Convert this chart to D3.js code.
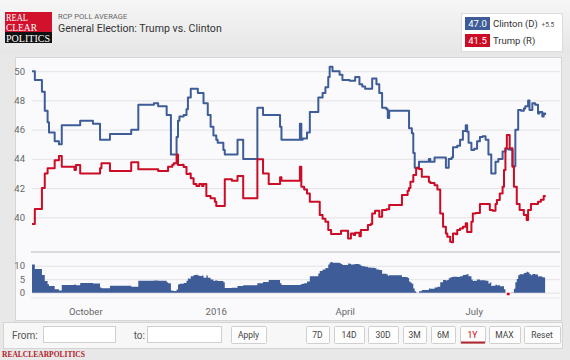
<!DOCTYPE html>
<html><head><meta charset="utf-8">
<script src="https://cdn.jsdelivr.net/npm/d3@7"></script>
<style>
html,body{margin:0;padding:0;background:#e8e8e8;}
svg{display:block;font-family:Roboto,"Liberation Sans",Arial,sans-serif;}
</style></head><body>
<svg id="c" width="570" height="360"></svg>
<script>
// ---------- DATA ----------
const startDate = "2015-08-24";            // day 0
const clintonDays = [0,2,7,9,11,12,16,19,21,34,43,48,55,70,75,86,89,95,98,102,103,104,107,109,110,112,117,121,124,126,128,130,131,135,136,145,149,159,163,175,176,189,190,191,194,196,202,205,207,209,210,212,217,219,224,228,231,233,235,240,243,245,247,250,251,252,266,268,269,270,273,280,281,284,290,292,294,296,297,300,302,304,306,307,308,310,312,314,316,318,320,322,324,327,329,332,334,336,338,339,341,343,345,347,348,350,351,353,355,357,358,360,361,362];
const clintonValues = [50.0,49.4,48.6,47.3,46.5,45.8,45.2,45.0,46.3,46.6,46.4,45.3,45.7,46.0,47.7,47.8,47.6,47.0,44.3,45.5,46.6,46.9,47.0,47.4,48.2,48.8,48.5,47.8,47.0,46.2,45.6,45.3,45.1,44.6,44.3,45.3,44.0,47.5,47.0,46.2,45.3,46.4,45.3,45.4,45.8,47.2,48.2,48.5,48.9,49.6,50.3,50.0,49.75,49.4,49.35,49.6,49.1,48.95,48.8,49.5,49.1,48.5,47.5,47.4,46.8,47.3,46.1,45.75,44.4,43.4,43.8,44.0,43.8,44.1,44.1,43.4,44.0,44.1,44.8,44.9,45.3,45.9,46.3,45.85,45.1,44.6,44.7,45.2,45.5,45.55,45.3,44.3,43.0,43.8,44.0,44.5,44.7,44.65,44.6,43.5,46.0,47.35,47.3,47.45,47.6,48.0,47.35,47.8,47.7,47.1,47.2,46.9,47.1,47.0];
const trumpDays = [0,2,7,9,11,16,19,21,30,31,34,48,49,55,70,75,89,96,99,100,102,103,106,107,109,111,112,114,116,118,120,121,123,126,129,130,136,141,145,149,159,163,167,175,176,189,190,192,194,196,203,205,207,209,211,218,223,225,227,228,231,232,237,239,240,242,245,247,250,252,261,265,266,267,269,271,272,273,275,280,281,284,286,288,290,292,293,295,296,297,299,300,302,304,306,307,310,311,313,316,323,325,327,328,330,332,333,334,335,337,339,340,342,344,347,349,350,352,357,359,361,362];
const trumpValues = [39.55,40.57,42.0,43.0,43.36,43.9,44.2,43.47,43.24,43.58,43.0,43.36,43.7,43.17,43.77,43.29,43.17,43.47,43.6,43.7,44.3,43.58,43.6,43.45,42.97,43.0,42.67,42.28,42.15,42.28,42.15,42.28,41.46,41.3,41.07,40.77,42.6,42.5,42.83,41.3,43.97,43.0,42.28,42.74,42.5,43.47,42.1,41.9,41.64,41.07,40.16,39.9,39.7,39.13,38.86,39.08,38.56,38.9,38.8,38.95,38.7,39.13,39.47,39.55,40.27,40.45,40.04,40.5,40.55,40.84,41.53,41.82,42.0,42.44,42.9,43.36,43.4,43.3,42.78,42.44,42.35,42.2,41.9,40.27,39.36,38.9,38.67,38.33,38.3,38.9,38.85,39.13,39.24,39.36,39.59,39.0,39.7,40.27,40.3,40.91,40.5,40.45,40.91,41.19,41.64,42.1,43.24,44.73,45.64,44.73,43.47,42.1,40.91,40.5,40.16,39.82,40.5,40.91,41.07,41.2,41.46,41.5];
const yTicks = [40,42,44,46,48,50];
const spreadTicks = [0,5,10];
const xTickDates = ["2015-10-01","2016-01-01","2016-04-01","2016-07-01"];
const xTickLabels = ["October","2016","April","July"];
const seriesNames = ["Clinton (D)","Trump (R)"];
const seriesLatest = ["47.0","41.5"];
const spreadLabel = "+5.5";
const rangeButtons = ["7D","14D","30D","3M","6M","1Y","MAX","Reset"];
const selectedButton = "1Y";

// ---------- STYLE ----------
const BLUE = "#3d5c98", RED = "#cc0b25";
const svg = d3.select("#c");
const parse = d3.utcParse("%Y-%m-%d");
const d0 = parse(startDate);
const toDate = d => new Date(d0.getTime() + d * 864e5);

// background pieces
const defs = svg.append("defs");
const hg = defs.append("linearGradient").attr("id","hg").attr("x1",0).attr("y1",0).attr("x2",0).attr("y2",1);
hg.append("stop").attr("offset","0%").attr("stop-color","#f6f6f6");
hg.append("stop").attr("offset","100%").attr("stop-color","#e6e6e6");
svg.append("rect").attr("x",0).attr("y",0).attr("width",570).attr("height",360).attr("fill","#e8e8e8");
svg.append("rect").attr("x",0).attr("y",0).attr("width",570).attr("height",54).attr("fill","url(#hg)");

// logo
const logo = svg.append("g");
logo.append("rect").attr("x",5).attr("y",12).attr("width",47).attr("height",20).attr("fill","#d2112c");
logo.append("rect").attr("x",5).attr("y",32).attr("width",47).attr("height",11).attr("fill","#111");
[["REAL",20.8,22],["CLEAR",30.8,31],["POLITICS",41.5,44]].forEach(([t,yy,w])=>{
  logo.append("text").attr("x",6).attr("y",yy).text(t).attr("font-size",10.2)
    .attr("textLength",w).attr("lengthAdjust","spacingAndGlyphs")
    .attr("font-family","'Liberation Serif','DejaVu Serif',serif").attr("fill","#fff");
});
svg.append("text").attr("x",58).attr("y",19).attr("font-size",7.6).attr("fill","#666").text("RCP POLL AVERAGE");
svg.append("text").attr("x",58).attr("y",31.5).attr("font-size",10.6).attr("fill","#333").text("General Election: Trump vs. Clinton");

// legend
const lg = svg.append("g");
lg.append("rect").attr("x",461.5).attr("y",13.5).attr("width",101).attr("height",38).attr("fill","#fff").attr("stroke","#dcdcdc");
seriesNames.forEach((n,i)=>{
  const yy = 17 + i*17;
  lg.append("rect").attr("x",465).attr("y",yy).attr("width",25).attr("height",13).attr("fill",i===0?BLUE:RED);
  lg.append("text").attr("x",477.5).attr("y",yy+10).attr("text-anchor","middle").attr("font-size",9.5).attr("fill","#fff").text(seriesLatest[i]);
  lg.append("text").attr("x",493).attr("y",yy+10).attr("font-size",9.5).attr("fill","#333").text(n);
  if(i===0) lg.append("text").attr("x",541.5).attr("y",yy+10).attr("font-size",6.5).attr("fill","#555").text(spreadLabel);
});

// main panel
svg.append("rect").attr("x",15.5).attr("y",57.5).attr("width",546).attr("height",263).attr("fill","#fafafc").attr("stroke","#d6d6d6");

// scales
const x = d3.scaleUtc().domain([d0, toDate(372.5)]).range([32,560]);
const y = d3.scaleLinear().domain([37.65,50.6]).range([251.7,62.4]);
const ys = d3.scaleLinear().domain([-2,14]).range([298,255]);

// grid main
svg.append("g").attr("transform","translate(32,0)")
  .call(d3.axisLeft(y).tickValues(yTicks).tickSize(-528).tickFormat(d3.format("d")).tickPadding(7))
  .call(g=>g.select(".domain").remove())
  .call(g=>g.selectAll("line").attr("stroke","#e3e3e6"))
  .call(g=>g.selectAll("text").attr("fill","#666").attr("font-size",9.5).attr("font-family","Roboto,'Liberation Sans',Arial,sans-serif"));
// spread grid
svg.append("g").attr("transform","translate(32,0)")
  .call(d3.axisLeft(ys).tickValues(spreadTicks).tickSize(-528).tickFormat(d3.format("d")).tickPadding(7))
  .call(g=>g.select(".domain").remove())
  .call(g=>g.selectAll("line").attr("stroke","#e3e3e6"))
  .call(g=>g.selectAll("text").attr("fill","#666").attr("font-size",9.5).attr("font-family","Roboto,'Liberation Sans',Arial,sans-serif"));
svg.append("line").attr("x1",31).attr("x2",560).attr("y1",252).attr("y2",252).attr("stroke","#b8b8b8");
svg.append("line").attr("x1",31).attr("x2",560).attr("y1",298).attr("y2",298).attr("stroke","#e6e6e6");

// series
const clinton = clintonDays.map((d,i)=>({date:toDate(d), v:clintonValues[i]}));
const trump = trumpDays.map((d,i)=>({date:toDate(d), v:trumpValues[i]}));
const line = d3.line().x(d=>x(d.date)).y(d=>y(d.v)).curve(d3.curveStepAfter);

// spread from both series (step lookup)
const allDays = Array.from(new Set(clintonDays.concat(trumpDays))).sort((a,b)=>a-b);
const lookup = (days, vals, d) => { let idx = d3.bisectRight(days, d) - 1; return vals[Math.max(0,idx)]; };
const spread = allDays.map(d=>({date:toDate(d), s: lookup(clintonDays,clintonValues,d) - lookup(trumpDays,trumpValues,d)}));
svg.append("path").datum(spread).attr("fill",BLUE)
  .attr("d", d3.area().x(d=>x(d.date)).y0(ys(0)).y1(d=>ys(Math.max(0,d.s))).curve(d3.curveStepAfter));
svg.append("path").datum(spread).attr("fill",RED)
  .attr("d", d3.area().x(d=>x(d.date)).y0(ys(0)).y1(d=>ys(Math.min(0,d.s))).curve(d3.curveStepAfter));

svg.append("path").datum(clinton).attr("fill","none").attr("stroke",BLUE).attr("stroke-width",2).attr("stroke-linejoin","round").attr("d",line);
svg.append("path").datum(trump).attr("fill","none").attr("stroke",RED).attr("stroke-width",2).attr("stroke-linejoin","round").attr("d",line);

// x labels
svg.append("g").selectAll("text").data(xTickDates).join("text")
  .attr("x",d=>x(parse(d))).attr("y",315).attr("text-anchor","middle")
  .attr("font-size",9.5).attr("fill","#666").text((d,i)=>xTickLabels[i]);

// controls bar
const cb = svg.append("g");
cb.append("rect").attr("x",3.5).attr("y",322.5).attr("width",559).attr("height",26).attr("fill","#f7f7f7").attr("stroke","#d4d4d4");
cb.append("text").attr("x",12).attr("y",338.5).attr("font-size",10).attr("fill","#555").text("From:");
cb.append("rect").attr("x",43.5).attr("y",326.5).attr("width",72).attr("height",16).attr("fill","#fff").attr("stroke","#cfcfcf");
cb.append("text").attr("x",145).attr("y",338.5).attr("text-anchor","end").attr("font-size",10).attr("fill","#555").text("to:");
cb.append("rect").attr("x",147.5).attr("y",326.5).attr("width",74).attr("height",16).attr("fill","#fff").attr("stroke","#cfcfcf");
const btn = (x0,x1,label,sel)=>{
  cb.append("rect").attr("x",x0+0.5).attr("y",326.5).attr("width",x1-x0).attr("height",17).attr("fill","#fdfdfd").attr("stroke","#cfcfcf").attr("rx",1);
  cb.append("text").attr("x",(x0+x1)/2).attr("y",338).attr("text-anchor","middle").attr("font-size",8.5).attr("fill",sel?"#c00":"#444").text(label);
  if(sel) cb.append("rect").attr("x",x0+1).attr("y",341.5).attr("width",x1-x0-1).attr("height",2).attr("fill","#b5262e");
};
btn(231,266,"Apply",false);
const bx = [[306,329],[334,364],[368,398],[403,426],[431,455],[460,485],[489,520],[524,560]];
rangeButtons.forEach((b,i)=>btn(bx[i][0],bx[i][1],b,b===selectedButton));

// footer
svg.append("text").attr("x",2).attr("y",357).attr("font-size",7.5).attr("font-weight","bold")
  .attr("font-family","'Liberation Serif','DejaVu Serif',serif").attr("fill","#b3202a").text("REALCLEARPOLITICS");
</script>
</body></html>
